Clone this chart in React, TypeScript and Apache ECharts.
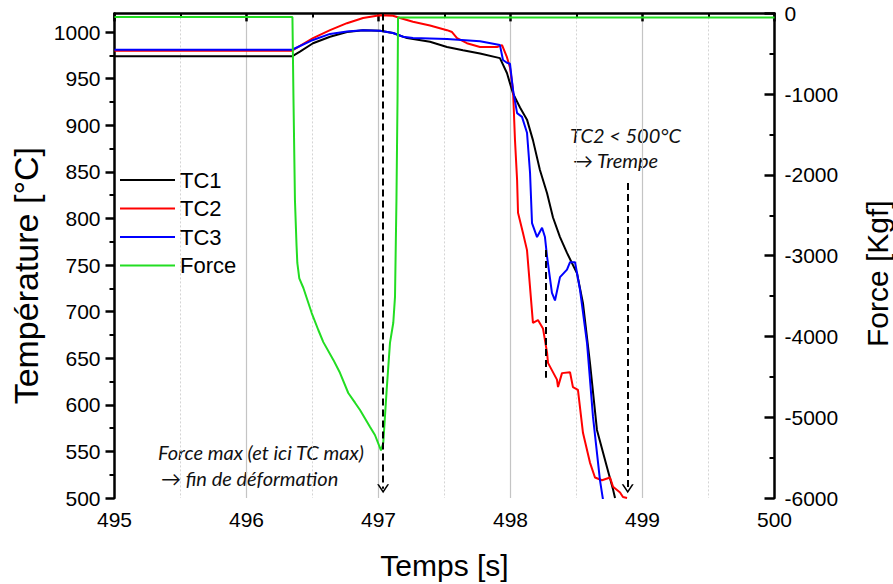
import React, { useEffect, useRef } from "react";
import * as echarts from "echarts";

// ---------- data ----------
const TIME_MIN = 495;
const TIME_MAX = 500;
const TEMP_MIN = 500;
const TEMP_MAX = 1020;
const TEMP_TICKS = [500, 550, 600, 650, 700, 750, 800, 850, 900, 950, 1000];
const TEMP_MINOR_TICKS = [525, 575, 625, 675, 725, 775, 825, 875, 925, 975];
const FORCE_MIN = -6000;
const FORCE_MAX = 0;

const TC1: [number, number][] = [
  [495, 974], [496.345, 974], [496.405, 979], [496.504, 988], [496.633, 995],
  [496.761, 1000], [496.883, 1002], [497.011, 1001.5], [497.11, 999], [497.216, 993.5],
  [497.39, 989.5], [497.519, 984], [497.64, 980.5], [497.769, 977], [497.92, 972],
  [497.973, 956], [498.019, 934], [498.072, 919], [498.125, 906], [498.17, 884],
  [498.223, 852], [498.277, 827], [498.322, 801], [498.375, 780], [498.428, 763],
  [498.504, 741], [498.549, 709], [498.602, 645], [498.655, 573], [498.731, 533],
  [498.777, 509], [498.792, 500],
];

const TC2: [number, number][] = [
  [495, 980], [496.345, 980], [496.504, 993.5], [496.633, 1002], [496.761, 1009.5],
  [496.883, 1015], [497.011, 1018], [497.11, 1017.5], [497.163, 1015], [497.261, 1011],
  [497.39, 1007], [497.519, 1002], [497.557, 1000], [497.595, 993.5], [497.67, 988],
  [497.769, 984], [497.898, 984], [497.936, 986], [497.973, 973], [497.996, 962],
  [498.019, 938], [498.034, 884], [498.05, 841], [498.057, 806], [498.095, 784],
  [498.125, 766], [498.17, 688], [498.208, 691], [498.246, 682], [498.277, 656],
  [498.284, 645], [498.352, 627], [498.36, 619], [498.39, 634], [498.451, 635],
  [498.473, 619], [498.511, 616], [498.549, 570], [498.602, 538], [498.64, 522],
  [498.693, 519], [498.754, 522], [498.777, 512], [498.83, 506], [498.852, 501],
  [498.883, 500],
];

const TC3: [number, number][] = [
  [495, 981], [496.345, 981], [496.504, 991.5], [496.633, 998], [496.761, 1000.5],
  [496.883, 1002], [497.011, 1001.5], [497.11, 999], [497.186, 995], [497.261, 993.5],
  [497.519, 992.5], [497.769, 990], [497.92, 986], [497.943, 970], [497.973, 967],
  [497.996, 966], [498.019, 938], [498.05, 913], [498.087, 909], [498.125, 892],
  [498.148, 849], [498.163, 795], [498.201, 780], [498.239, 790], [498.261, 780],
  [498.277, 759], [498.314, 720], [498.337, 712], [498.375, 737], [498.428, 745],
  [498.451, 753], [498.489, 753], [498.527, 723], [498.58, 666], [498.625, 587],
  [498.678, 519], [498.701, 498],
];

const FORCE: [number, number][] = [
  [495, -45], [496.348, -45], [496.356, -1070], [496.367, -2310], [496.379, -2870],
  [496.385, -3090], [496.4, -3280], [496.431, -3400], [496.494, -3710], [496.544, -3920],
  [496.582, -4070], [496.658, -4290], [496.708, -4450], [496.771, -4700], [496.822, -4820],
  [496.86, -4910], [496.936, -5120], [496.973, -5220], [497.019, -5410], [497.036, -5320],
  [497.062, -4660], [497.087, -4080], [497.112, -3830], [497.125, -3510], [497.136, -2310],
  [497.144, -1070], [497.148, -50], [500, -50],
];

// dashed markers (time, temperature from, temperature to)
const ARROW_FORCE_MAX = { t: 497.035, from: 1020, to: 510 };
const ARROW_TREMPE = { t: 498.888, from: 838, to: 510 };
const DASH_TC = { t: 498.269, from: 766, to: 629 };

const LEGEND_NAMES = ["TC1", "TC2", "TC3", "Force"];
const COLORS = { TC1: "#000000", TC2: "#ff0000", TC3: "#0000ff", Force: "#22dd22" };

const FONT = "'Liberation Sans', Arial, sans-serif";
const ANN_FONT = "italic 20px Lato, 'Open Sans', sans-serif";
const CHEVRON = "path://M0,10 L6,0 L12,10 L10.2,10 L6,3 L1.8,10 Z";

export default function App() {
  const ref = useRef<HTMLDivElement>(null);

  useEffect(() => {
    if (!ref.current) return;
    const chart = echarts.init(ref.current, undefined, { renderer: "svg" });

    const axisLine = { show: true, lineStyle: { color: "#000", width: 2.5 } };
    const labelStyle = { color: "#000", fontSize: 21, fontFamily: FONT, formatter: (v: number) => String(v) };

    const option: any = {
      animation: false,
      backgroundColor: "#fff",
      grid: { left: 114.5, right: 118.5, top: 13.4, bottom: 86, containLabel: false, outerBoundsMode: "none" },
      legend: {
        data: LEGEND_NAMES,
        orient: "vertical",
        left: 120,
        top: 169,
        padding: 0,
        icon: "rect",
        itemWidth: 55,
        itemHeight: 2.2,
        itemGap: 6.5,
        textStyle: { color: "#000", fontSize: 22, fontFamily: FONT, lineHeight: 22 },
        selectedMode: false,
      },
      xAxis: {
        type: "value",
        min: TIME_MIN,
        max: TIME_MAX,
        interval: 1,
        name: "Temps [s]",
        nameLocation: "middle",
        nameGap: 52,
        nameTextStyle: { color: "#000", fontSize: 30, fontFamily: FONT },
        axisLine,
        axisTick: { show: true, length: 8, lineStyle: { color: "#000", width: 2.5 } },
        minorTick: { show: true, splitNumber: 2, length: 4, lineStyle: { color: "#000", width: 2 } },
        axisLabel: { ...labelStyle, margin: 11 },
        splitLine: { show: true, lineStyle: { color: "#c4c4c4", width: 1.2 } },
        minorSplitLine: { show: true, lineStyle: { color: "#d4d4d4", width: 1, type: [2, 2] } },
      },
      yAxis: [
        {
          type: "value",
          position: "left",
          min: TEMP_MIN,
          max: TEMP_MAX,
          interval: 50,
          name: "Température [°C]",
          nameLocation: "middle",
          nameGap: 68,
          nameTextStyle: { color: "#000", fontSize: 34, fontFamily: FONT, padding: [0, 40, 0, 0] },
          axisLine,
          axisTick: { show: true, length: 9, customValues: TEMP_TICKS, lineStyle: { color: "#000", width: 2.5 } },
          axisLabel: { ...labelStyle, margin: 14, customValues: TEMP_TICKS },
          splitLine: { show: false },
        },
        {
          type: "value",
          position: "right",
          min: FORCE_MIN,
          max: FORCE_MAX,
          interval: 1000,
          name: "Force [Kgf]",
          nameLocation: "middle",
          nameRotate: 90,
          nameGap: 88,
          nameTextStyle: { color: "#000", fontSize: 30, fontFamily: FONT, padding: [0, 36, 0, 0] },
          axisLine,
          axisTick: { show: true, inside: true, length: 10, lineStyle: { color: "#000", width: 2.5 } },
          minorTick: { show: true, splitNumber: 2, length: 5, lineStyle: { color: "#000", width: 2 } },
          axisLabel: { ...labelStyle, margin: 10 },
          splitLine: { show: false },
        },
        {
          type: "value",
          position: "left",
          min: TEMP_MIN,
          max: TEMP_MAX,
          interval: 25,
          axisLine: { show: false },
          axisTick: { show: true, length: 5, customValues: TEMP_MINOR_TICKS, lineStyle: { color: "#000", width: 2 } },
          axisLabel: { show: false },
          splitLine: { show: false },
        },
      ],
      graphic: [
        { type: "text", x: 158, y: 452, silent: true, style: { text: "Force max (et ici TC max)", font: ANN_FONT, fill: "#111", verticalAlign: "middle" } },
        { type: "text", x: 161, y: 478, silent: true, style: { text: "\u2192 fin de déformation", font: ANN_FONT, fill: "#111", verticalAlign: "middle" } },
        { type: "text", x: 570, y: 135, silent: true, style: { text: "TC2 < 500°C", font: ANN_FONT, fill: "#111", verticalAlign: "middle" } },
        { type: "text", x: 573, y: 160, silent: true, style: { text: "\u2192 Trempe", font: ANN_FONT, fill: "#111", verticalAlign: "middle" } },
      ],
      series: [
        { name: "TC1", type: "line", yAxisIndex: 0, data: TC1, symbol: "none", lineStyle: { color: COLORS.TC1, width: 2 }, itemStyle: { color: COLORS.TC1 } },
        { name: "TC2", type: "line", yAxisIndex: 0, data: TC2, symbol: "none", lineStyle: { color: COLORS.TC2, width: 2 }, itemStyle: { color: COLORS.TC2 } },
        { name: "TC3", type: "line", yAxisIndex: 0, data: TC3, symbol: "none", lineStyle: { color: COLORS.TC3, width: 2 }, itemStyle: { color: COLORS.TC3 } },
        { name: "Force", type: "line", yAxisIndex: 1, data: FORCE, symbol: "none", lineStyle: { color: COLORS.Force, width: 2 }, itemStyle: { color: COLORS.Force } },
        {
          name: "annotations",
          type: "line",
          yAxisIndex: 0,
          data: [],
          silent: true,
          markLine: {
            silent: true,
            animation: false,
            label: { show: false },
            emphasis: { disabled: true },
            lineStyle: { color: "#000", width: 2, type: [7, 4] },
            data: [
              [
                { coord: [ARROW_FORCE_MAX.t, ARROW_FORCE_MAX.from], symbol: "none" },
                { coord: [ARROW_FORCE_MAX.t, ARROW_FORCE_MAX.to], symbol: CHEVRON, symbolSize: [12, 9] },
              ],
              [
                { coord: [ARROW_TREMPE.t, ARROW_TREMPE.from], symbol: "none" },
                { coord: [ARROW_TREMPE.t, ARROW_TREMPE.to], symbol: CHEVRON, symbolSize: [12, 9] },
              ],
              [
                { coord: [DASH_TC.t, DASH_TC.from], symbol: "none" },
                { coord: [DASH_TC.t, DASH_TC.to], symbol: "none" },
              ],
            ],
          },
        },
      ],
    };

    chart.setOption(option);
    return () => chart.dispose();
  }, []);

  return (
    <div
      ref={ref}
      style={{ position: "fixed", left: 0, top: 0, width: 893, height: 584, background: "#fff" }}
    />
  );
}
